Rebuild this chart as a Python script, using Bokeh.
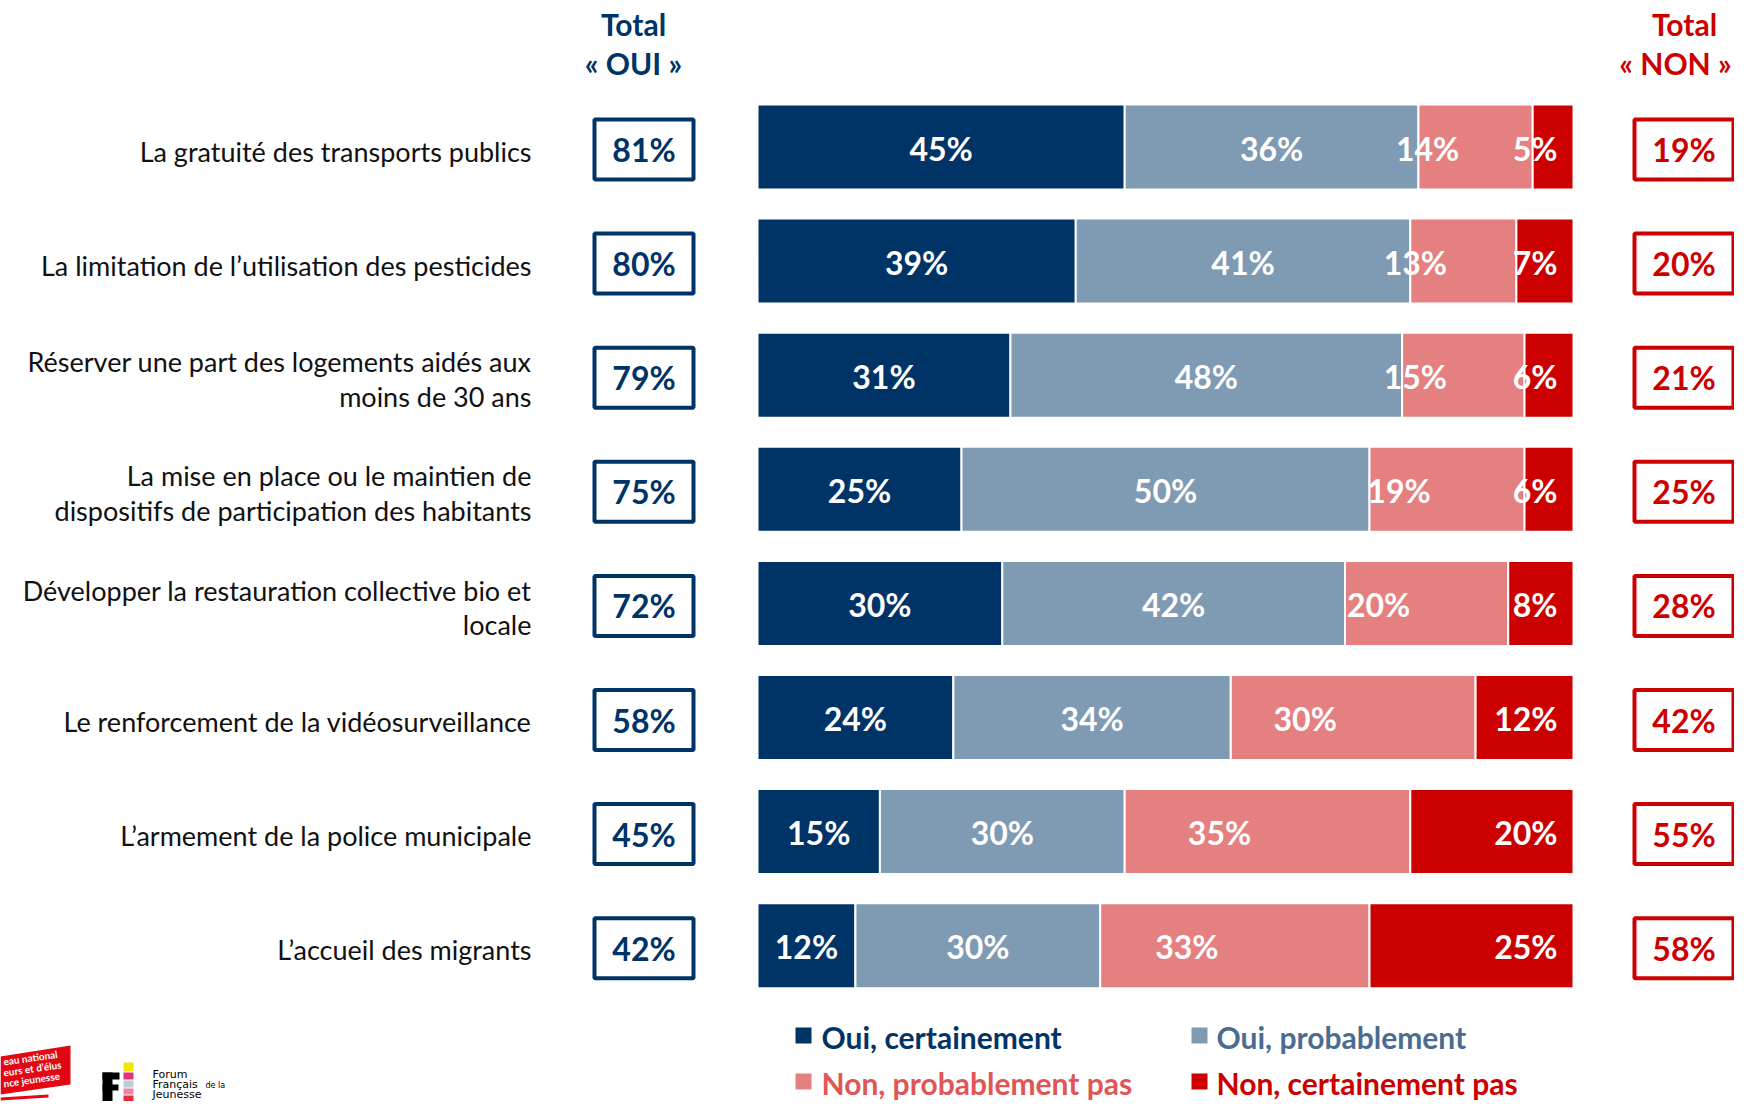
import numpy as np
from bokeh.plotting import figure
from bokeh.models import ColumnDataSource, Range1d
from bokeh.embed import file_html
from bokeh.resources import INLINE
from bokeh.core.properties import value

# ---------------- data ----------------
questions = [
    "La gratuité des transports publics",
    "La limitation de l’utilisation des pesticides",
    "Réserver une part des logements aidés aux\nmoins de 30 ans",
    "La mise en place ou le maintien de\ndispositifs de participation des habitants",
    "Développer la restauration collective bio et\nlocale",
    "Le renforcement de la vidéosurveillance",
    "L’armement de la police municipale",
    "L’accueil des migrants",
]
oui_certainement = [45, 39, 31, 25, 30, 24, 15, 12]
oui_probablement = [36, 41, 48, 50, 42, 34, 30, 30]
non_probablement = [14, 13, 15, 19, 20, 30, 35, 33]
non_certainement = [5, 7, 6, 6, 8, 12, 20, 25]
total_oui = [81, 80, 79, 75, 72, 58, 45, 42]
total_non = [19, 20, 21, 25, 28, 42, 55, 58]

series_names = ["Oui, certainement", "Oui, probablement",
                "Non, probablement pas", "Non, certainement pas"]
bar_colors = ["#003366", "#7f9ab3", "#e48080", "#cc0000"]
legend_text_colors = ["#003366", "#4b6c91", "#e05656", "#cc0000"]
NAVY = "#003366"
RED = "#cc0000"

# ---------------- geometry helpers (picture px -> data units) ----------------
W, H = 1734, 1101
PX_PER_UNIT = 8.16          # px per percentage point
BAR_LEFT = 757              # x of 0 %
ROW0 = 146.5                # y of first row centre
ROW_STEP = 114.1            # px between rows


def dx(px):
    return (px - BAR_LEFT) / PX_PER_UNIT


def dy(py):
    return (py - ROW0) / ROW_STEP


p = figure(width=W, height=H, x_range=Range1d(dx(0), dx(W)), y_range=Range1d(dy(H), dy(0)),
           output_backend="svg", toolbar_location=None, min_border=0,
           x_axis_location=None, y_axis_location=None)
p.grid.visible = False
p.outline_line_color = None
p.background_fill_color = "white"
p.border_fill_color = "white"

FONT = value("Lato")
rows = list(range(len(questions)))

# ---------------- stacked bars ----------------
keys = ["oc", "op", "np", "nc"]
src = ColumnDataSource(dict(y=rows, oc=oui_certainement, op=oui_probablement,
                            np=non_probablement, nc=non_certainement))
p.hbar_stack(keys, y="y", height=85 / ROW_STEP, color=bar_colors,
             line_color="white", line_width=2, source=src)

# ---------------- segment labels ----------------
vals = np.array([oui_certainement, oui_probablement, non_probablement, non_certainement], dtype=float)
rights = np.cumsum(vals, axis=0)
lefts = rights - vals
centers = (lefts + rights) / 2

for k in range(4):
    txt = [f"{int(v)}%" for v in vals[k]]
    if k < 2:
        xs, align, xoff = centers[k], "center", 0
    elif k == 2:
        xs, align, xoff = centers[k], "center", -48
    else:
        xs, align, xoff = rights[k], "right", -16
    s = ColumnDataSource(dict(x=list(xs), y=rows, t=txt))
    p.text(x="x", y="y", text="t", source=s, text_font=FONT, text_font_style="bold",
           text_font_size="32px", text_color="white", text_align=align,
           text_baseline="middle", x_offset=xoff, y_offset=1)

# ---------------- question labels ----------------
qs = ColumnDataSource(dict(x=[dx(531)] * len(rows), y=rows, t=questions))
p.text(x="x", y="y", text="t", source=qs, text_font=FONT, text_font_size="27px",
       text_color="#111111", text_align="right", text_baseline="middle",
       text_line_height=1.05, y_offset=4)

# ---------------- total boxes ----------------
box_w = 99 / PX_PER_UNIT
box_h = 60 / ROW_STEP
box_y = [r + 2.5 / ROW_STEP for r in rows]
for cx, vals_t, col in [(dx(643.5), total_oui, NAVY), (dx(1683.5), total_non, RED)]:
    bs = ColumnDataSource(dict(x=[cx] * len(rows), y=box_y, t=[f"{v}%" for v in vals_t]))
    p.rect(x="x", y="y", width=box_w, height=box_h, source=bs, fill_color="white",
           line_color=col, line_width=4)
    p.text(x="x", y="y", text="t", source=bs, text_font=FONT, text_font_style="bold",
           text_font_size="32px", text_color=col, text_align="center",
           text_baseline="middle")

# ---------------- headers ----------------
hdr = ColumnDataSource(dict(
    x=[dx(633), dx(633), dx(1684), dx(1675)],
    y=[dy(23), dy(62), dy(23), dy(62)],
    t=["Total", "« OUI »", "Total", "« NON »"],
    c=[NAVY, NAVY, RED, RED]))
p.text(x="x", y="y", text="t", text_color="c", source=hdr, text_font=FONT,
       text_font_style="bold", text_font_size="30px", text_align="center",
       text_baseline="middle")

# ---------------- legend ----------------
leg = ColumnDataSource(dict(
    sx=[dx(803), dx(1199), dx(803), dx(1199)],
    tx=[dx(821), dx(1216), dx(821), dx(1216)],
    y=[dy(1035), dy(1035), dy(1081), dy(1081)],
    t=series_names, c=bar_colors, tc=legend_text_colors))
p.scatter(x="sx", y="y", source=leg, marker="square", size=16, fill_color="c",
          line_color=None)
p.text(x="tx", y="y", text="t", text_color="tc", source=leg, text_font=FONT,
       text_font_style="bold", text_font_size="30px", text_align="left",
       text_baseline="middle", y_offset=1)

# ---------------- logos (decoration, bottom-left) ----------------
p.patch([dx(0), dx(70), dx(70), dx(0)], [dy(1056), dy(1045), dy(1084), dy(1094)],
        fill_color="#e30613", line_color=None)
p.patch([dx(0), dx(48), dx(48), dx(0)], [dy(1097), dy(1094), dy(1097), dy(1100)],
        fill_color="#e30613", line_color=None)
ang = np.deg2rad(8)
lg = ColumnDataSource(dict(x=[dx(3), dx(3), dx(3)], y=[dy(1061), dy(1072), dy(1083)],
                           t=["eau national", "eurs et d’élus", "nce jeunesse"]))
p.text(x="x", y="y", text="t", source=lg, angle=ang, text_font=FONT,
       text_font_style="bold", text_font_size="10px", text_color="white",
       text_align="left", text_baseline="middle")

ffj_blocks = dict(
    l=[dx(102), dx(102), dx(123), dx(123), dx(123), dx(123), dx(123)],
    r=[dx(112), dx(119), dx(133), dx(133), dx(133), dx(133), dx(133)],
    t=[dy(1072), dy(1072), dy(1062), dy(1072), dy(1080), dy(1088), dy(1095)],
    b=[dy(1101), dy(1079), dy(1071), dy(1079), dy(1087), dy(1094), dy(1101)],
    c=["black", "black", "#f2e500", "#e5337a", "#bccbd8", "#ec83ac", "#e52d3a"])
p.quad(left="l", right="r", top="t", bottom="b", fill_color="c", line_color=None,
       source=ColumnDataSource(ffj_blocks))
p.quad(left=[dx(102)], right=[dx(118)], top=[dy(1084)], bottom=[dy(1090)],
       fill_color="black", line_color=None)
ffj_txt = ColumnDataSource(dict(x=[dx(152), dx(152), dx(205), dx(152)],
                                y=[dy(1074), dy(1084), dy(1085), dy(1094)],
                                t=["Forum", "Français", "de la", "Jeunesse"],
                                s=["11px", "11px", "8px", "11px"]))
p.text(x="x", y="y", text="t", source=ffj_txt, text_font=value("DejaVu Sans"),
       text_font_size="s", text_color="black", text_align="left",
       text_baseline="middle")

open("out.html", "w").write(file_html(p, INLINE))
